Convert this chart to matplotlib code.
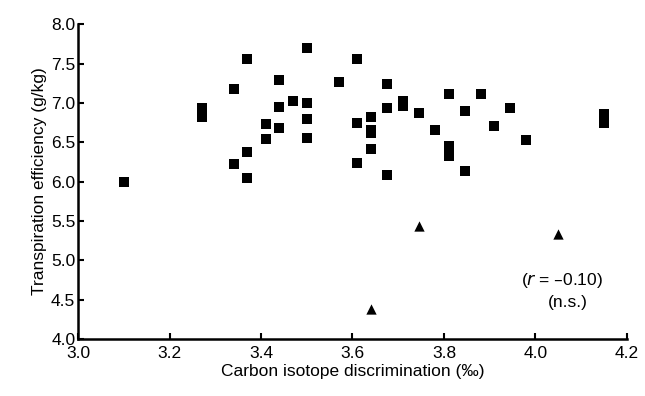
import matplotlib
matplotlib.use("Agg")
import matplotlib.pyplot as plt

plt.rcParams['font.family'] = ['Liberation Sans', 'DejaVu Sans']

# Squares: main group
sq_x = [3.10, 3.27, 3.27, 3.34, 3.37, 3.44, 3.44, 3.47, 3.50, 3.50, 3.50, 3.50,
        3.57, 3.61, 3.61, 3.61, 3.41, 3.41, 3.44, 3.37, 3.34, 3.37,
        3.675, 3.71, 3.71, 3.675, 3.745, 3.81, 3.88, 3.845, 3.945,
        4.15, 4.15, 3.64, 3.64, 3.64, 3.64, 3.675, 3.78, 3.91, 3.98,
        3.81, 3.81, 3.845]
sq_y = [5.99, 6.94, 6.82, 7.18, 7.56, 7.29, 6.95, 7.02, 7.70, 7.00, 6.80, 6.55,
        7.26, 7.56, 6.74, 6.24, 6.73, 6.54, 6.68, 6.37, 6.22, 6.04,
        7.24, 7.02, 6.96, 6.93, 6.87, 7.11, 7.11, 6.90, 6.93,
        6.86, 6.75, 6.815, 6.66, 6.62, 6.415, 6.08, 6.66, 6.71, 6.53,
        6.45, 6.32, 6.13]

# Triangles
tri_x = [3.745, 4.05, 3.64]
tri_y = [5.44, 5.34, 4.38]

xticks = [3.0, 3.2, 3.4, 3.6, 3.8, 4.0, 4.2]
yticks = [4.0, 4.5, 5.0, 5.5, 6.0, 6.5, 7.0, 7.5, 8.0]

fig = plt.figure(figsize=(6.45, 3.96), dpi=100)
ax = fig.add_axes([0.121, 0.144, 0.851, 0.795])

ax.scatter(sq_x, sq_y, marker='s', s=46, color='black', linewidths=0, clip_on=False, zorder=3)
ax.scatter(tri_x, tri_y, marker='^', s=55, color='black', linewidths=0, clip_on=False, zorder=3)

ax.set_xlim(3.0, 4.2)
ax.set_ylim(4.0, 8.0)
ax.set_xticks(xticks)
ax.set_xticklabels([f"{v:.1f}" for v in xticks])
ax.set_yticks(yticks)
ax.set_yticklabels([f"{v:.1f}" for v in yticks])

for s in ['top', 'right']:
    ax.spines[s].set_visible(False)
for s in ['left', 'bottom']:
    ax.spines[s].set_linewidth(1.8)

ax.tick_params(direction='in', length=4, width=1.5, labelsize=12.5, colors='black')
ax.tick_params(axis='x', pad=5)
ax.tick_params(axis='y', pad=2)

ax.set_xlabel("Carbon isotope discrimination (\u2030)", fontsize=12.5, labelpad=2)
ax.set_ylabel("Transpiration efficiency (g/kg)", fontsize=12.5, labelpad=3)

ax.text(4.058, 4.74, "(" + r"$\it{r}$" + " = \u20130.10)", ha='center', va='center', fontsize=12.5)
ax.text(4.071, 4.46, "(n.s.)", ha='center', va='center', fontsize=12.5)

fig.savefig("out.png", dpi=100)
